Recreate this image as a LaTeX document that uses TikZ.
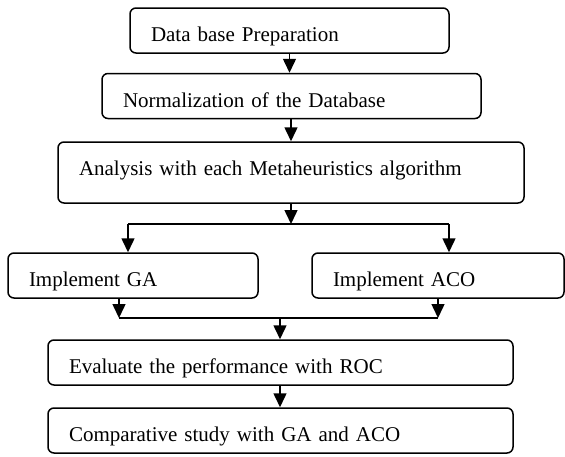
\documentclass[tikz,border=0pt]{standalone}
\usepackage{fontspec}
\setmainfont{Liberation Serif}
\usepackage{tikz}
\usetikzlibrary{arrows.meta}

\begin{document}
\begin{tikzpicture}[x=1pt, y=-1pt,
        box/.style={draw, line width=1.5pt, rounded corners=6pt, minimum height=45pt, inner xsep=21pt, inner ysep=0pt,
            align=left, text height=22pt, text depth=0pt, font=\fontsize{21pt}{25pt}\selectfont},
        arrow/.style={-{Triangle[width=13pt,length=14pt]}, line width=1.5pt},
        line/.style={line width=1.5pt}
    ]
        \useasboundingbox (0,0) rectangle (565,456);

        \node[box, minimum width=319pt, text width=277pt] (prep) at (289.5,30.5) {Data base Preparation};
        \node[box, minimum width=379pt, text width=337pt] (norm) at (291.5,96) {Normalization of the Database};
        \node[box, minimum width=466pt, text width=424pt, minimum height=61pt, text height=15pt, text depth=10pt] (analysis) at (291,172.5) {Analysis with each Metaheuristics algorithm};
        \node[box, minimum width=250pt, text width=208pt] (ga) at (133,275.5) {Implement GA};
        \node[box, minimum width=252pt, text width=210pt] (aco) at (438,275.5) {Implement ACO};
        \node[box, minimum width=465pt, text width=423pt] (eval) at (280.5,362.5) {Evaluate the performance with ROC};
        \node[box, minimum width=465pt, text width=423pt] (comp) at (280.5,430.5) {Comparative study with GA and ACO};

        \coordinate (split) at (291,224);
        \coordinate (splitL) at (128,224);
        \coordinate (splitR) at (449,224);
        \coordinate (mergeL) at (119,318);
        \coordinate (mergeR) at (438,318);
        \coordinate (merge) at (280,318);

        \draw[arrow] (prep.south) -- (prep.south |- norm.north);
        \draw[arrow] (norm.south -| analysis.north) -- (analysis.north);
        \draw[arrow] (analysis.south) -- (split);
        \draw[line] (splitL) -- (splitR);
        \draw[arrow] (splitL) -- (splitL |- ga.north);
        \draw[arrow] (splitR) -- (splitR |- aco.north);

        \draw[arrow] (mergeL |- ga.south) -- (mergeL);
        \draw[arrow] (aco.south) -- (mergeR);
        \draw[line] (mergeL) -- (mergeR);
        \draw[arrow] (merge) -- (merge |- eval.north);
        \draw[arrow] (eval.south -| merge) -- (merge |- comp.north);
    \end{tikzpicture}
\end{document}
